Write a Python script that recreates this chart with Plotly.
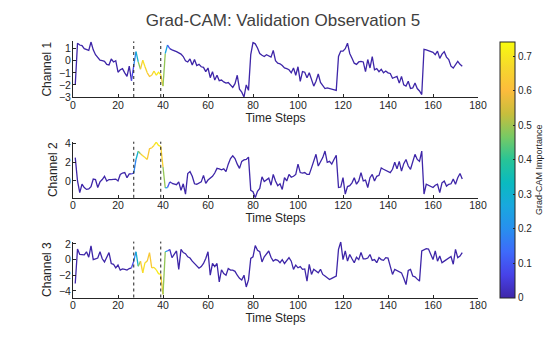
import plotly.graph_objects as go
from plotly.colors import sample_colorscale

# ---------------- data ----------------
time_steps = list(range(1, 174))

channel_1 = [
    -2.0, 1.45, 1.3, 1.25, 1.0, 0.9, 0.85, 1.55, 0.9, 0.5,
    0.3, 0.05, 0.0, -0.05, -0.3, -0.35, 0.15, -0.1, 0.0, -0.95,
    -0.75, -0.65, -1.0, -1.3, -0.45, -1.65, -0.4, 0.75, -0.1, -0.7,
    0.05, -0.5, -1.0, -1.3, -1.2, -0.85, -1.2, -0.95, -1.15, -2.1,
    0.6, 1.3, 1.0, 0.9, 0.85, 0.75, 0.65, 0.55, 0.35, 0.0,
    -0.1, 0.15, -0.35, 0.1, -0.4, -0.3, -0.5, -0.55, -0.9, -0.6,
    -1.4, -0.9, -1.6, -1.2, -1.65, -1.6, -1.75, -1.85, -1.8, -2.0,
    -2.2, -1.9, -1.2, -2.35, -2.6, -3.0, -2.0, -2.45, 0.5, 1.5,
    1.4, 1.05, 0.6, 0.45, 0.35, 0.5, 0.4, 0.3, 0.85, 0.0,
    -0.2, -0.25, -0.4, -0.6, -0.65, -0.75, -1.0, -0.6, -1.2, -0.5,
    -1.7, -0.9, -0.95, -1.4, -1.0, -1.6, -2.1, -1.7, -1.1, -1.8,
    -2.1, -2.3, -2.25, -2.3, -2.35, -2.4, -2.45, 0.35, 0.8, 0.8,
    1.0, 1.45, 0.6, 0.2, -0.2, -0.3, -0.1, -0.05, -0.1, -0.9,
    0.1, -0.6, 0.35, -0.75, -0.65, -0.9, -0.7, -1.0, -0.85, -1.0,
    -1.05, -1.45, -1.4, -1.3, -1.85, -1.3, -2.0, -2.1, -1.7, -2.3,
    -2.25, -1.85, -2.3, -2.5, -2.8, 0.95, 0.9, 0.85, 0.75, 0.7,
    0.5, 0.8, 0.2, 0.55, 0.75, 0.3, 0.1, -0.45, -0.6, -0.3,
    -0.05, -0.3, -0.45,
]

channel_2 = [
    2.5, 0.0, -1.25, -0.35, -0.7, -0.9, -0.85, -0.6, 0.2, 0.15,
    -0.7, -0.1, 0.15, 0.5, 0.0, 0.15, 0.15, 0.2, 0.2, 0.0,
    0.7, 0.85, 0.9, 0.35, 0.75, 0.75, 0.85, 2.3, 3.2, 2.9,
    2.7, 2.5, 2.3, 3.45, 3.55, 3.8, 4.15, 3.8, 3.7, 1.5,
    -0.75, -0.7, -0.1, -0.25, -0.35, -0.4, -0.1, -1.0, -0.3, -1.4,
    0.8, 1.0, 0.5, -0.3, -0.35, -0.25, -0.1, 0.6, -0.25, 0.1,
    0.3, 0.5, 0.85, 1.35, 1.3, 1.2, 1.3, 1.0, 1.8, 2.4,
    2.7, 2.4, 1.8, 1.35, 2.1, 2.25, 2.3, 2.55, -1.0, -1.15,
    -1.8, -1.1, -0.8, 0.45, -0.05, 0.1, 0.3, -0.45, 0.7, 0.0,
    -0.5, -0.3, -0.9, 0.35, 0.0, 0.7, 0.4, 0.5, 0.7, 1.8,
    0.9, 0.85, 0.9, 0.7, 0.7, 1.4, 2.1, 2.85, 1.6, 2.1,
    2.5, 3.2, 2.0, 2.1, 1.8, 2.3, 2.75, -0.7, -0.65, 0.35,
    -1.4, -0.6, -0.5, -0.2, 0.35, -0.35, 0.0, 0.9, 0.0, 0.1,
    -0.7, 0.35, 0.7, 0.0, 0.5, 0.6, 1.4, 1.25, 1.15, 1.05,
    0.9, 1.25, 2.0, 1.3, 2.1, 1.05, 1.85, 2.3, 1.6, 1.25,
    2.2, 2.85, 2.3, 2.1, 3.2, -1.4, -0.35, -0.45, -0.6, -0.7,
    -0.45, -0.35, -1.25, -0.2, 0.0, -0.55, -0.35, -0.3, 0.2, -0.35,
    0.35, 0.8, 0.2,
]

channel_3 = [
    -3.05, 1.35, 0.65, 0.6, 0.6, 1.0, 0.3, 1.75, 0.0, 0.1,
    0.2, 1.0, 0.1, -0.3, 0.35, 0.9, -0.5, -0.6, -1.05, -0.7,
    -1.35, -1.2, -1.25, -1.35, -1.15, -1.05, -0.2, 1.0, -0.85, -0.2,
    -1.7, -0.4, -0.2, 0.9, -1.05, -1.0, -1.3, -1.8, -1.9, -4.45,
    1.0, 1.1, 1.3, 0.25, 0.65, 1.1, -1.25, 1.3, 0.9, 0.75,
    0.35, 0.2, -0.2, -0.5, -0.9, -1.1, -0.9, -0.5, 0.15, 1.0,
    -2.0, -0.5, -0.9, -0.5, -2.85, -1.3, -1.8, -2.0, -1.15, -1.35,
    -1.35, -1.5, -2.0, -2.4, -2.6, -2.0, -3.5, -2.6, 0.15, 0.35,
    1.8, 1.2, 1.0, -0.3, 0.35, 0.8, 1.1, 0.3, -0.2, 0.0,
    -0.1, -0.4, 0.0, -0.5, -0.1, 0.25, -0.2, -1.25, -0.7, -1.05,
    -0.9, -1.25, -1.2, -2.75, -0.6, -1.9, -1.25, -1.5, -1.7, -1.25,
    -1.9, -2.1, -2.3, -2.55, -2.4, -2.3, -2.1, 1.3, 2.25, 0.0,
    1.1, -0.2, 0.65, 0.1, -0.4, 0.3, 0.0, 0.9, 0.1, 0.1,
    0.2, 0.65, -0.1, 0.0, -0.4, 0.25, 0.0, -0.1, 0.25, 0.2,
    -0.85, -1.9, -1.25, -1.4, -1.5, -1.7, -2.4, -3.2, -1.4, -1.25,
    -2.1, -2.2, -2.5, -2.75, 1.1, 1.3, 1.4, 1.35, 0.6, 0.0,
    1.1, -0.2, 0.45, -0.4, -0.2, 0.0, 0.25, 0.4, -0.6, 1.3,
    0.25, 0.45, 0.9,
]

# Grad-CAM importance per time step (same for every channel)
importance = [0.0] * 26 + [
    0.15, 0.22, 0.38, 0.58, 0.70, 0.68, 0.64, 0.62, 0.64, 0.68,
    0.70, 0.72, 0.70, 0.60, 0.38, 0.15, 0.04,
] + [0.0] * 130

window_bounds = [27, 39]
channel_names = ["Channel 1", "Channel 2", "Channel 3"]
y_ranges = [[-3, 1.6], [-1.8, 4.2], [-4.85, 2.3]]
y_ticks = [[-3, -2, -1, 0, 1], [0, 2, 4], [-4, -2, 0, 2]]
x_ticks = [0, 20, 40, 60, 80, 100, 120, 140, 160, 180]
cbar_ticks = [0, 0.1, 0.2, 0.3, 0.4, 0.5, 0.6, 0.7]
cmax = 0.742

parula = [
    [0.00, "rgb(62,38,168)"],
    [0.09, "rgb(71,66,232)"],
    [0.18, "rgb(62,106,250)"],
    [0.27, "rgb(40,143,238)"],
    [0.36, "rgb(25,168,222)"],
    [0.45, "rgb(10,186,192)"],
    [0.54, "rgb(40,196,150)"],
    [0.63, "rgb(120,202,100)"],
    [0.72, "rgb(200,190,60)"],
    [0.81, "rgb(252,188,60)"],
    [0.90, "rgb(246,215,45)"],
    [1.00, "rgb(249,251,14)"],
]

# ---------------- figure ----------------
AX = "rgb(38,38,38)"
FONT = "Liberation Sans, Arial, sans-serif"
x_dom = [73 / 560, 478 / 560]
# pixel top/bottom of each axes
px = [(41.4, 97.0), (141.7, 197.8), (241.6, 297.5)]
H = 337

fig = go.Figure()
channels = [channel_1, channel_2, channel_3]

for k, vals in enumerate(channels):
    xa = "x" if k == 0 else f"x{k+1}"
    ya = "y" if k == 0 else f"y{k+1}"
    # group segments with identical colour into single traces
    seg_colors = []
    for i in range(len(vals) - 1):
        c = (importance[i] + importance[i + 1]) / 2
        seg_colors.append(sample_colorscale(parula, [min(c / cmax, 1.0)])[0])
    start = 0
    for i in range(1, len(seg_colors) + 1):
        if i == len(seg_colors) or seg_colors[i] != seg_colors[start]:
            fig.add_trace(go.Scatter(
                x=time_steps[start:i + 1], y=vals[start:i + 1],
                mode="lines", line=dict(color=seg_colors[start], width=1.3),
                xaxis=xa, yaxis=ya, showlegend=False, hoverinfo="skip"))
            start = i
    for b in window_bounds:
        fig.add_shape(type="line", xref=xa, yref=f"{ya} domain",
                      x0=b, x1=b, y0=0, y1=1,
                      line=dict(color="rgb(30,30,30)", width=1, dash="dot"))

# colorbar carrier
fig.add_trace(go.Scatter(
    x=[None], y=[None], mode="markers", showlegend=False,
    marker=dict(color=[0, cmax], cmin=0, cmax=cmax, colorscale=parula,
                showscale=True,
                colorbar=dict(
                    x=500 / 560, xanchor="left", xpad=0, ypad=0, thickness=15,
                    lenmode="pixels", len=256, y=1 - 41.7 / H, yanchor="top",
                    outlinecolor=AX, outlinewidth=1,
                    tickvals=cbar_ticks, ticks="inside", ticklen=2,
                    tickcolor=AX, tickfont=dict(size=10, color=AX, family=FONT),
                    title=dict(text="Grad-CAM Importance", side="right",
                               font=dict(size=9, color=AX, family=FONT)),
                ))))

layout = dict(
    width=560, height=337,
    margin=dict(l=0, r=0, t=0, b=0),
    paper_bgcolor="white", plot_bgcolor="white",
    font=dict(family=FONT, color=AX),
    title=dict(text="Grad-CAM: Validation Observation 5",
               x=283 / 560, xanchor="center", y=1 - 20 / H, yanchor="middle",
               font=dict(size=17, color="rgb(64,64,64)", family=FONT)),
    template="none",
)
for k in range(3):
    top, bot = px[k]
    xname = "xaxis" if k == 0 else f"xaxis{k+1}"
    yname = "yaxis" if k == 0 else f"yaxis{k+1}"
    ya = "y" if k == 0 else f"y{k+1}"
    xa = "x" if k == 0 else f"x{k+1}"
    layout[xname] = dict(
        domain=x_dom, anchor=ya, range=[0, 180], tickvals=x_ticks,
        ticks="inside", ticklen=3, tickcolor=AX, showline=True, linecolor=AX,
        linewidth=1, showgrid=False, zeroline=False, automargin=False,
        ticklabelstandoff=-2,
        tickfont=dict(size=10.5, color=AX),
        title=dict(text="Time Steps", standoff=2, font=dict(size=12, color=AX)))
    layout[yname] = dict(
        domain=[1 - bot / H, 1 - top / H], anchor=xa, range=y_ranges[k],
        tickvals=y_ticks[k], ticks="inside", ticklen=3, tickcolor=AX,
        showline=True, linecolor=AX, linewidth=1, showgrid=False,
        zeroline=False, automargin=False, ticklabelstandoff=-1,
        tickfont=dict(size=10.5, color=AX),
        title=dict(text=channel_names[k], standoff=4,
                   font=dict(size=12, color=AX)))
fig.update_layout(**layout)

fig.write_html("out.html")
